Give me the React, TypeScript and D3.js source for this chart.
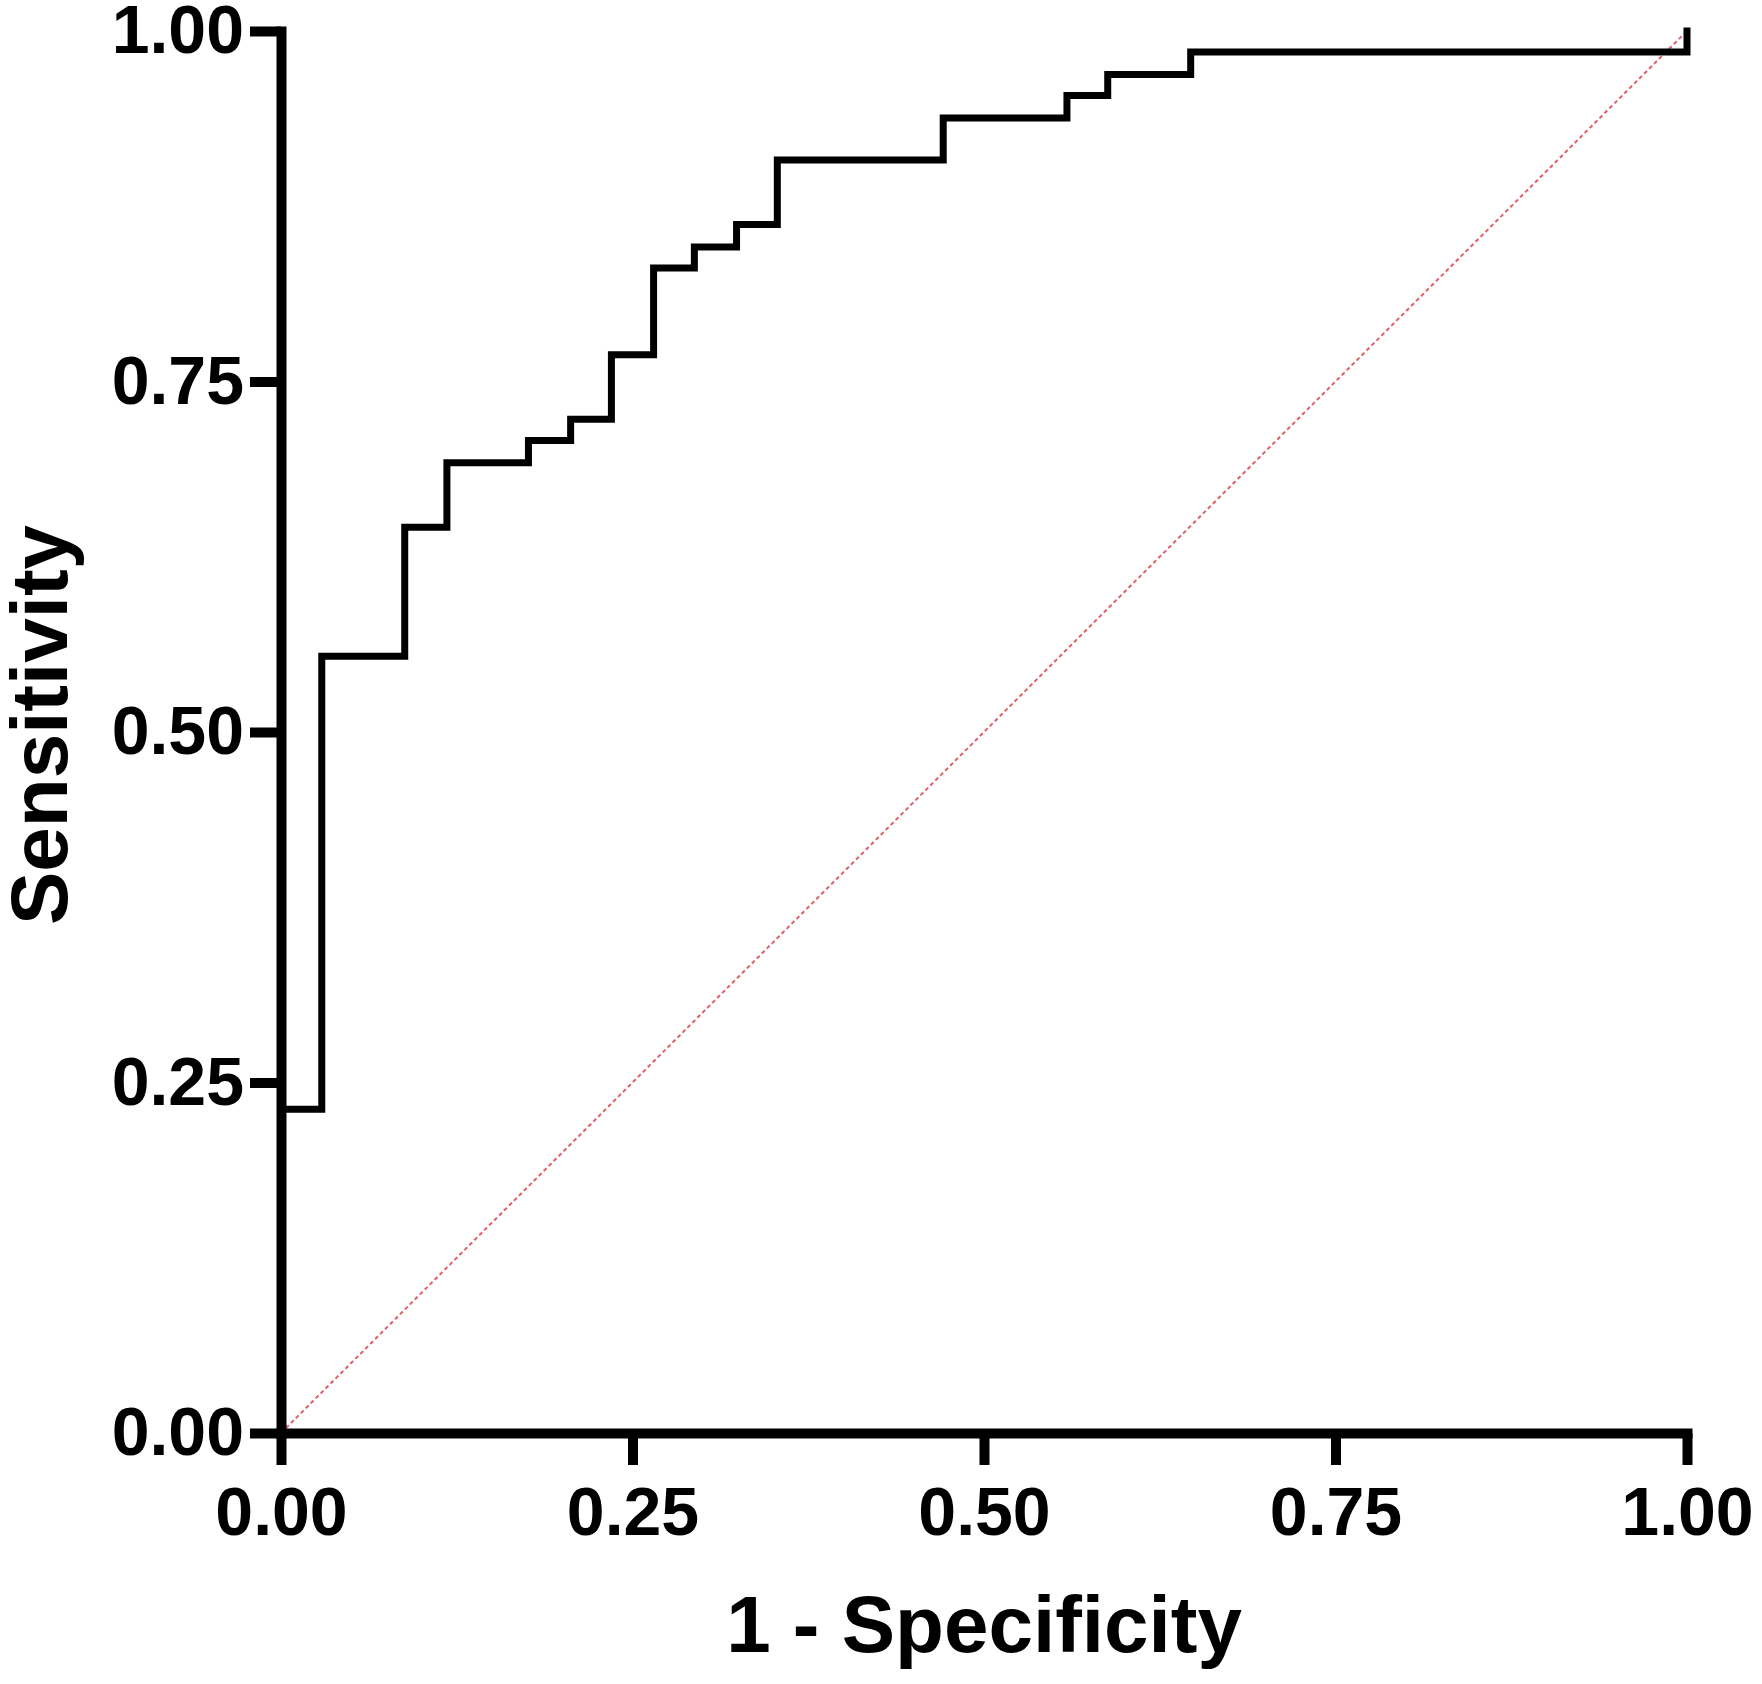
import React, { useEffect, useRef } from "react";
import * as d3 from "d3";

// ROC step-curve corner points (1 - Specificity, Sensitivity)
const fprValues = [0, 0, 0.029, 0.088, 0.118, 0.176, 0.206, 0.235, 0.265, 0.294, 0.324, 0.353, 0.471, 0.559, 0.588, 0.647, 1.0];
const tprValues = [0, 0.231, 0.554, 0.646, 0.692, 0.708, 0.723, 0.769, 0.831, 0.846, 0.862, 0.908, 0.938, 0.954, 0.969, 0.985, 1.0];
const xTicks = [0, 0.25, 0.5, 0.75, 1.0];
const yTicks = [0, 0.25, 0.5, 0.75, 1.0];
const xTitle = "1 - Specificity";
const yTitle = "Sensitivity";

const W = 1762;
const H = 1684;
const FONT = "'Liberation Sans', Arial, Helvetica, sans-serif";

export default function App() {
  const ref = useRef<SVGSVGElement>(null);

  useEffect(() => {
    const svg = d3.select(ref.current);
    svg.selectAll("*").remove();

    const x = d3.scaleLinear().domain([0, 1]).range([281, 1687]);
    const y = d3.scaleLinear().domain([0, 1]).range([1433, 31]);

    // diagonal reference line
    svg
      .append("line")
      .attr("x1", x(0))
      .attr("y1", y(0))
      .attr("x2", x(1))
      .attr("y2", y(1))
      .attr("stroke", "#e0606a")
      .attr("stroke-width", 2)
      .attr("stroke-dasharray", "4,3");

    // ROC curve
    const pts = fprValues.map((f, i) => [f, tprValues[i]] as [number, number]);
    const line = d3
      .line<[number, number]>()
      .x((d) => x(d[0]))
      .y((d) => y(d[1]))
      .curve(d3.curveStepAfter);
    svg
      .append("path")
      .attr("d", line(pts) as string)
      .attr("fill", "none")
      .attr("stroke", "#000")
      .attr("stroke-width", 7)
      .attr("stroke-linejoin", "miter")
      .attr("stroke-linecap", "square");

    const styleAxis = (g: any) => {
      g.select(".domain").attr("stroke", "#000").attr("stroke-width", 10).attr("stroke-linecap", "square");
      g.selectAll(".tick line").attr("stroke", "#000").attr("stroke-width", 10);
      g.selectAll(".tick text")
        .attr("fill", "#000")
        .style("font-family", FONT)
        .style("font-weight", "bold")
        .style("font-size", "68px");
    };

    const xAxis = d3
      .axisBottom(x)
      .tickValues(xTicks)
      .tickFormat(d3.format(".2f") as any)
      .tickSizeInner(32)
      .tickSizeOuter(0)
      .tickPadding(22);
    svg
      .append("g")
      .attr("transform", `translate(0,${y(0)})`)
      .call(xAxis as any)
      .call(styleAxis);

    const yAxis = d3
      .axisLeft(y)
      .tickValues(yTicks)
      .tickFormat(d3.format(".2f") as any)
      .tickSizeInner(31)
      .tickSizeOuter(0)
      .tickPadding(6);
    svg
      .append("g")
      .attr("transform", `translate(${x(0)},0)`)
      .call(yAxis as any)
      .call(styleAxis);

    // axis titles
    svg
      .append("text")
      .attr("x", (x(0) + x(1)) / 2)
      .attr("y", 1652)
      .attr("text-anchor", "middle")
      .style("font-family", FONT)
      .style("font-weight", "bold")
      .style("font-size", "80px")
      .attr("fill", "#000")
      .text(xTitle);

    svg
      .append("text")
      .attr("transform", `translate(67,${(y(0) + y(1)) / 2 - 7}) rotate(-90)`)
      .attr("text-anchor", "middle")
      .style("font-family", FONT)
      .style("font-weight", "bold")
      .style("font-size", "80px")
      .attr("fill", "#000")
      .text(yTitle);
  }, []);

  return (
    <svg
      ref={ref}
      width={W}
      height={H}
      style={{ position: "absolute", left: 0, top: 0, background: "#fff" }}
    />
  );
}
